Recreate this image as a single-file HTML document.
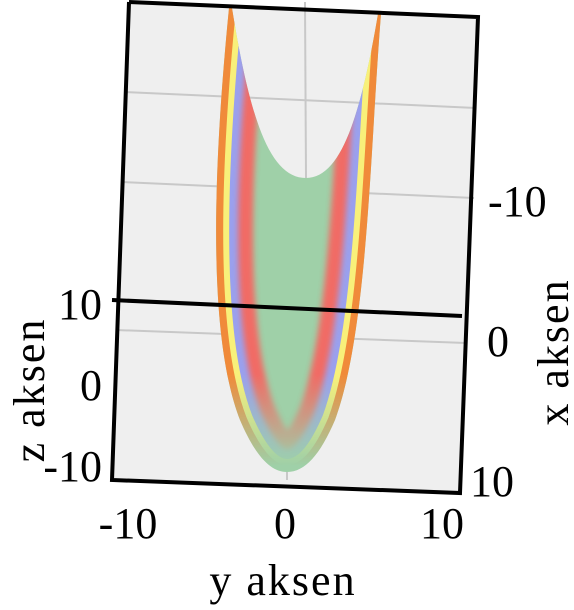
<!DOCTYPE html>
<html><head><meta charset="utf-8"><style>
html,body{margin:0;padding:0;background:#fff;width:574px;height:610px;overflow:hidden}
text{font-family:"Liberation Serif",serif;fill:#000}
</style></head><body>
<svg width="574" height="610" viewBox="0 0 574 610">
<defs>
<clipPath id="surfClip"><path d="M229,8 C215,150 205,330 240,420 C255,455 270,472 287,472 C305,472 320,455 335,420 C368,330 370,150 381,14 L378,14 C360,120 340,178 306,178 C270,178 250,120 232,8 Z"/></clipPath>
<linearGradient id="fadeG" gradientUnits="userSpaceOnUse" x1="0" y1="0" x2="0" y2="480">
<stop offset="0.78" stop-color="#fff"/><stop offset="0.97" stop-color="#000"/></linearGradient>
<mask id="fadeM" maskUnits="userSpaceOnUse" x="0" y="0" width="574" height="610"><rect x="0" y="0" width="574" height="480" fill="url(#fadeG)"/></mask>
<filter id="bl" x="-50%" y="-10%" width="200%" height="120%"><feGaussianBlur stdDeviation="3"/></filter>
</defs>
<polygon points="129,2 478,17 460,493 112,480" fill="#efefef"/>
<g id="grid" stroke="#c8c8c8" stroke-width="2" fill="none"></g>
<g clip-path="url(#surfClip)">
<rect x="200" y="0" width="200" height="480" fill="#9fd0a8"/>
<g mask="url(#fadeM)">
<path d="M229,8 C215,150 205,330 240,420 C255,455 270,472 287,472 C305,472 320,455 335,420 C368,330 370,150 381,14" fill="none" stroke="#ff5a5a" stroke-width="74" opacity="0.85" filter="url(#bl)"/>
<path d="M229,8 C215,150 205,330 240,420 C255,455 270,472 287,472 C305,472 320,455 335,420 C368,330 370,150 381,14" fill="none" stroke="#9aa0ee" stroke-width="44" filter="url(#bl)"/>
<path d="M229,8 C215,150 205,330 240,420 C255,455 270,472 287,472 C305,472 320,455 335,420 C368,330 370,150 381,14" fill="none" stroke="#f8f07a" stroke-width="26"/>
<path d="M229,8 C215,150 205,330 240,420 C255,455 270,472 287,472 C305,472 320,455 335,420 C368,330 370,150 381,14" fill="none" stroke="#f08a3a" stroke-width="14"/>
</g>
</g>
<g stroke="#000" stroke-width="4" fill="none">
<polyline points="129,2 478,17 460,493 112,480 129,2"/>
<line x1="112" y1="300" x2="462" y2="316"/>
</g>
<g id="ticks"></g>
<text x="283" y="595" font-size="44" text-anchor="middle" letter-spacing="2">y aksen</text>
<text transform="translate(44,390) rotate(-90)" font-size="44" text-anchor="middle" letter-spacing="2">z aksen</text>
<text transform="translate(568,352) rotate(-90)" font-size="44" text-anchor="middle" letter-spacing="2">x aksen</text>
</svg>
<script>
const yTicks=[-10,0,10];
const zTicks=[-10,0,10];
const xTicks=[-10,0,10];
const ns="http://www.w3.org/2000/svg";
const tg=document.getElementById('ticks');
const gg=document.getElementById('grid');
function yPos(v){return 128+(v+10)/20*314;}
function zPos(v){return 465-(v+10)/20*162;}
function xPos(v){return 200+(v+10)/20*280;}
function t(x,y,s,anchor,name){const e=document.createElementNS(ns,'text');e.setAttribute('x',x);e.setAttribute('y',y);e.setAttribute('font-size','44');e.setAttribute('text-anchor',anchor);e.textContent=s;


tg.appendChild(e);}
function ln(x1,y1,x2,y2,p){const e=document.createElementNS(ns,'line');e.setAttribute('x1',x1);e.setAttribute('y1',y1);e.setAttribute('x2',x2);e.setAttribute('y2',y2);p.appendChild(e);}
yTicks.forEach(v=>{t(yPos(v),538,String(v),'middle','y-tick-label');});
zTicks.forEach(v=>{t(102,zPos(v)+16,String(v),'end','z-tick-label');});
xTicks.forEach(v=>{t(v<0?488:(v===0?487:470),xPos(v)+16,String(v),'start','x-tick-label');});
ln(305,2,306,178,gg);ln(287,480,287,472,gg);
ln(125,92,476,108,gg);ln(122,182,474,198,gg);ln(116,330,466,343,gg);
</script>
</body></html>
